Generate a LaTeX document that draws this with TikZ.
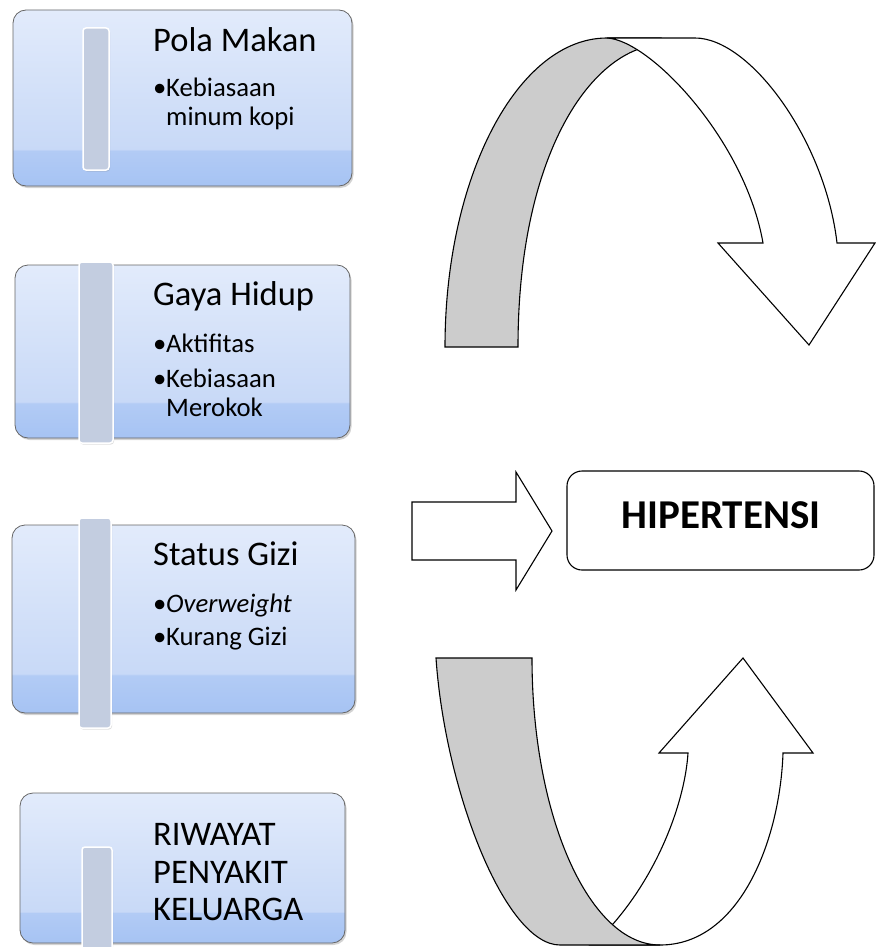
\documentclass[tikz,border=0pt]{standalone}
\usepackage{fontspec}
\setmainfont{Carlito}
\usetikzlibrary{shadows}
\definecolor{bbot}{HTML}{A6C3F3}
\definecolor{bband}{HTML}{B2CBF5}
\definecolor{bmid}{HTML}{C8D9F7}
\definecolor{btop}{HTML}{E2EBFB}
\definecolor{barfill}{HTML}{C3CDE0}
\definecolor{ribbon}{HTML}{CCCCCC}
\pgfdeclareverticalshading{boxshade}{100bp}{color(0bp)=(bbot); color(25bp)=(bbot); color(35bp)=(bband); color(35.5bp)=(bmid); color(75bp)=(btop); color(100bp)=(btop)}
\begin{document}
\begin{tikzpicture}[x=1pt,y=-1pt,
  box/.style={draw=black!60, line width=0.8pt, rounded corners=13pt, shading=boxshade,
    drop shadow={opacity=0.35, shadow xshift=1.5pt, shadow yshift=-2pt}, inner sep=0pt},
  bar/.style={draw=white, line width=1.5pt, fill=barfill, rounded corners=3pt, inner sep=0pt,
    drop shadow={opacity=0.25, shadow xshift=1pt, shadow yshift=-1.5pt}},
  title/.style={anchor=base west, inner sep=0pt, font=\fontsize{34.5}{41}\selectfont},
  item/.style={anchor=base west, inner sep=0pt, font=\fontsize{26.7}{32}\selectfont},
  big/.style={anchor=base west, inner sep=0pt, font=\fontsize{34.5}{41}\selectfont},
  blk/.style={draw=black, line width=1.1pt, line join=miter},
]
\useasboundingbox (0,0) rectangle (875,947);

% left boxes
\node[box, minimum width=339pt, minimum height=176pt] (b1) at (182.5,98) {};
\node[bar, minimum width=26pt, minimum height=142pt] (r1) at (96,99) {};
\node[title] (t1) at (153,52) {Pola Makan};
\node[item] (u1) at (153,97) {•};
\node[item] (i1a) at (166,97) {Kebiasaan};
\node[item] (i1b) at (166,125) {minum kopi};

\node[box, minimum width=335pt, minimum height=173pt] (b2) at (182.5,351.5) {};
\node[bar, minimum width=34pt, minimum height=181pt] (r2) at (96,352.5) {};
\node[title] (t2) at (153,305) {Gaya Hidup};
\node[item] (u2a) at (153,352) {•};
\node[item] (i2a) at (166,352) {Aktifitas};
\node[item] (u2b) at (153,387) {•};
\node[item] (i2b) at (166,387) {Kebiasaan};
\node[item] (i2c) at (166,416) {Merokok};

\node[box, minimum width=343pt, minimum height=188pt] (b3) at (183.5,619) {};
\node[bar, minimum width=32pt, minimum height=210pt] (r3) at (95,623) {};
\node[title] (t3) at (153,565) {Status Gizi};
\node[item] (u3a) at (153,612) {•};
\node[item] (i3a) at (166,612) {\itshape Overweight};
\node[item] (u3b) at (153,645) {•};
\node[item] (i3b) at (166,645) {Kurang Gizi};

\node[box, minimum width=325pt, minimum height=150pt] (b4) at (182.5,868) {};
\node[bar, minimum width=30pt, minimum height=110pt] (r4) at (97,902) {};
\node[big] (t4a) at (153,845) {RIWAYAT};
\node[big] (t4b) at (153,883) {PENYAKIT};
\node[big] (t4c) at (153,920) {KELUARGA};

% HIPERTENSI
\node[blk, fill=white, rounded corners=15pt, minimum width=307pt, minimum height=99pt, inner sep=0pt] (h) at (720.5,520.5) {};
\node[anchor=base, inner sep=0pt, font=\fontsize{41}{48}\selectfont\bfseries] (ht) at (721,528) {HIPERTENSI};

% middle block arrow
\draw[blk, fill=white] (412,502) -- (516,502) -- (516,472) -- (552,531) -- (516,590) -- (516,560) -- (412,560) -- cycle;

% top curved arrow: back of the ribbon
\draw[blk, fill=ribbon] (445,347) .. controls (445,176) and (518,38) .. (607,38) -- (660,38) -- (645,47)
  .. controls (580,65) and (518,170) .. (518,347) -- cycle;
% top curved arrow: front with head
\draw[blk, fill=white] (607,38) -- (695,38) .. controls (750,38) and (825,140) .. (837,243)
  -- (875,243) -- (809,345) -- (718,243) -- (763,243)
  .. controls (745,140) and (650,40) .. (607,38) -- cycle;

% bottom curved arrow: front with head
\draw[blk, fill=white] (660,945) .. controls (740,945) and (780,840) .. (783,753)
  -- (813,753) -- (743,658) -- (659,753) -- (688,753)
  .. controls (685,800) and (660,870) .. (613,924) -- (590,945) -- cycle;
% bottom curved arrow: back of the ribbon
\draw[blk, fill=ribbon] (436,658) .. controls (445,790) and (505,945) .. (560,945) -- (660,945)
  .. controls (589,945) and (532,816) .. (532,658) -- cycle;
\end{tikzpicture}
\end{document}
